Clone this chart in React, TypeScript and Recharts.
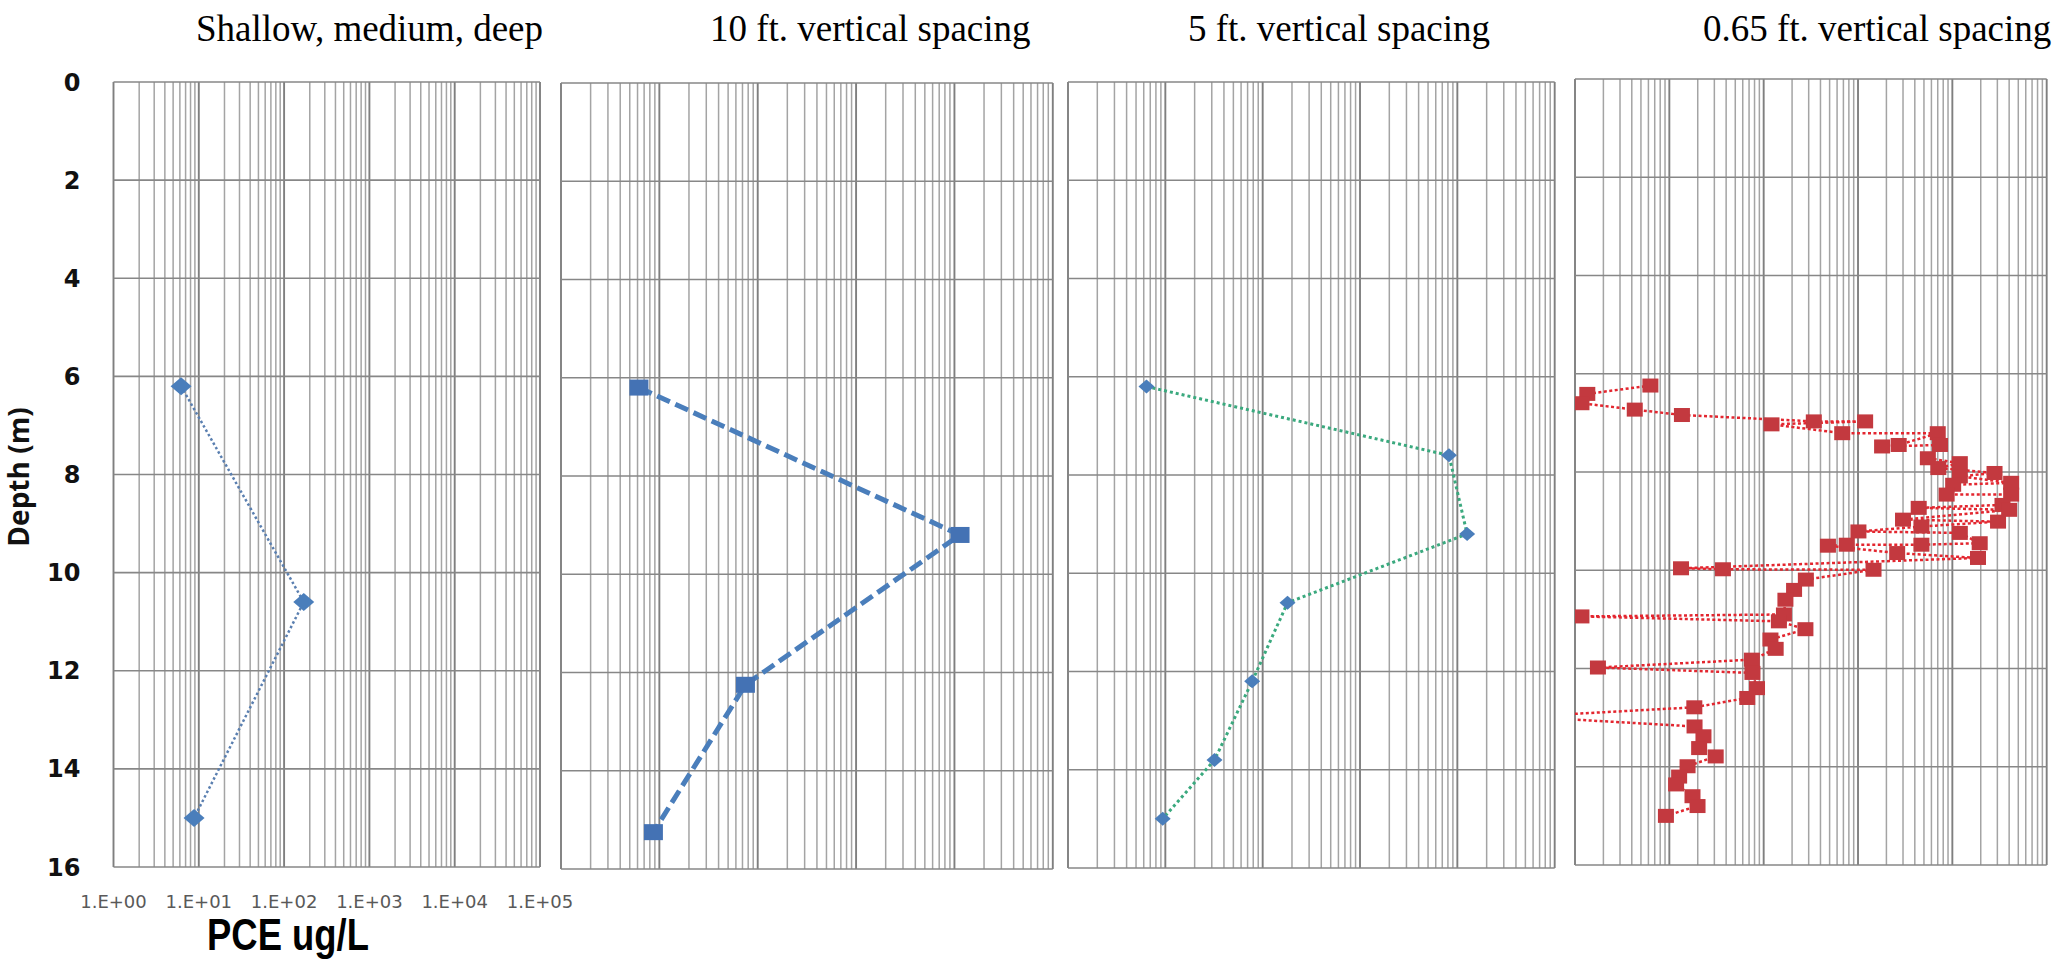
import React from "react";
import { ScatterChart, Scatter, XAxis, YAxis, ReferenceLine } from "recharts";

// depth (m) and PCE (ug/L)
const p1Depth = [6.2, 10.6, 15.0];
const p1Pce = [6.2, 170, 8.8];

const p2Depth = [6.2, 9.2, 12.25, 15.25];
const p2Pce = [6.2, 11400, 75, 8.7];

const p3Depth = [6.2, 7.6, 9.2, 10.6, 12.2, 13.8, 15.0];
const p3Pce = [6.4, 8200, 12600, 180, 78, 32, 9.4];

const p4Depth = [
  6.24, 6.41, 6.6, 6.73, 6.84, 6.97, 6.97, 7.03, 7.21, 7.21, 7.45, 7.48, 7.45,
  7.72, 7.82, 7.92, 8.02, 8.09, 8.22, 8.26, 8.46, 8.46, 8.67, 8.73, 8.77, 8.97,
  9.01, 9.11, 9.21, 9.24, 9.45, 9.48, 9.48, 9.5, 9.65, 9.75, 9.96, 9.98, 9.99,
  10.19, 10.4, 10.6, 10.9, 10.94, 11.04, 11.2, 11.41, 11.6, 11.82, 11.98, 12.09,
  12.4, 12.6, 12.79, 12.98, 13.18, 13.38, 13.62, 13.79, 13.99, 14.2, 14.36,
  14.6, 14.8, 15.0,
];
const p4Pce = [
  6.3, 1.35, 1.17, 4.3, 13.6, 340, 1190, 121, 680, 7000, 2700, 1800, 7400,
  5500, 12000, 7100, 28000, 12000, 42000, 10200, 8700, 42000, 34000, 4400,
  40000, 3000, 30500, 4700, 1010, 12000, 19500, 4700, 760, 480, 2600, 18700,
  13.3, 37, 1460, 280, 210, 170, 164, 1.17, 145, 277, 118, 134, 75, 1.75, 76,
  85, 67, 18.4, 0.28, 18.5, 23, 20.7, 31, 15.6, 12.7, 11.8, 17.6, 19.9, 9.2,
];

const titles = [
  "Shallow, medium, deep",
  "10 ft. vertical spacing",
  "5 ft. vertical spacing",
  "0.65 ft. vertical spacing",
];

const depthTicks = [0, 2, 4, 6, 8, 10, 12, 14, 16];
const decadeTicks = [1, 10, 100, 1000, 10000, 100000];
const decadeLabels = ["1.E+00", "1.E+01", "1.E+02", "1.E+03", "1.E+04", "1.E+05"];
const minorTicks = decadeTicks
  .slice(0, -1)
  .flatMap((d) => [2, 3, 4, 5, 6, 7, 8, 9].map((m) => m * d));

const toRows = (depth: number[], pce: number[]) =>
  depth.map((d, i) => ({ d, v: pce[i] }));

const diamond = (hw: number, hh: number, fill: string) => (p: any) =>
  p.cx == null ? null : (
    <path
      d={`M${p.cx - hw},${p.cy}L${p.cx},${p.cy - hh}L${p.cx + hw},${p.cy}L${p.cx},${p.cy + hh}Z`}
      fill={fill}
    />
  );

const square = (w: number, h: number, fill: string) => (p: any) =>
  p.cx == null ? null : (
    <rect x={p.cx - w / 2} y={p.cy - h / 2} width={w} height={h} fill={fill} />
  );

const PAD = 20;

function Panel({
  box,
  rows,
  shape,
  line,
  axes,
}: {
  box: number[];
  rows: { d: number; v: number }[];
  shape: any;
  line: any;
  axes?: boolean;
}) {
  const [x0, y0, x1, y1] = box;
  const left = axes ? 0 : x0 - PAD;
  const padR = axes ? 45 : PAD;
  const width = axes ? x1 + padR : x1 - x0 + 2 * PAD;
  const xh = axes ? 60 : 0;
  const height = y1 - y0 + 2 * PAD + xh;
  return (
    <div style={{ position: "absolute", left, top: y0 - PAD }}>
      <ScatterChart
        width={width}
        height={height}
        margin={{ top: PAD, right: padR, bottom: PAD, left: axes ? 0 : PAD }}
      >
        <XAxis
          type="number"
          dataKey="v"
          scale="log"
          domain={[1, 100000]}
          allowDataOverflow
          ticks={decadeTicks}
          interval={0}
          height={xh}
          hide={!axes}
          axisLine={false}
          tickLine={false}
          tickSize={0}
          tickMargin={28}
          tick={{ fontSize: 18, fill: "#595959", fontFamily: "DejaVu Sans" }}
          tickFormatter={(v: number) => {
            const i = decadeTicks.indexOf(v);
            return i >= 0 ? decadeLabels[i] : "";
          }}
        />
        <YAxis
          type="number"
          dataKey="d"
          reversed
          domain={[0, 16]}
          allowDataOverflow
          ticks={depthTicks}
          interval={0}
          width={axes ? x0 : 0}
          hide={!axes}
          axisLine={false}
          tickLine={false}
          tickSize={0}
          tickMargin={33}
          tick={{
            fontSize: 24,
            fontWeight: 700,
            fill: "#111",
            fontFamily: "DejaVu Sans",
          }}
        />
        {minorTicks.map((v) => (
          <ReferenceLine key={"m" + v} x={v} stroke="#a4a4a4" strokeWidth={1.5} />
        ))}
        {decadeTicks.map((v) => (
          <ReferenceLine key={"x" + v} x={v} stroke="#7f7f7f" strokeWidth={1.9} />
        ))}
        {depthTicks.map((v) => (
          <ReferenceLine key={"y" + v} y={v} stroke="#878787" strokeWidth={1.6} />
        ))}
        <Scatter
          data={rows}
          shape={shape}
          line={line}
          lineType="joint"
          isAnimationActive={false}
        />
      </ScatterChart>
    </div>
  );
}

const titleX = [196, 710, 1188, 1703];

export default function App() {
  return (
    <div
      style={{
        position: "relative",
        width: 2065,
        height: 966,
        background: "#fff",
        overflow: "hidden",
      }}
    >
      <style>{`body{margin:0}`}</style>
      <Panel
        axes
        box={[113.5, 82, 540, 867]}
        rows={toRows(p1Depth, p1Pce)}
        shape={diamond(10.5, 9, "#4a7ebb")}
        line={{ stroke: "#5a7fb0", strokeWidth: 2.5, strokeDasharray: "2.5 2.5" }}
      />
      <Panel
        box={[560.7, 83, 1052.5, 869]}
        rows={toRows(p2Depth, p2Pce)}
        shape={square(19, 16, "#4472b4")}
        line={{ stroke: "#4a7ebb", strokeWidth: 5, strokeDasharray: "14 6" }}
      />
      <Panel
        box={[1068.3, 82, 1555, 868]}
        rows={toRows(p3Depth, p3Pce)}
        shape={diamond(8, 7, "#4a7ebb")}
        line={{ stroke: "#3aa97e", strokeWidth: 3, strokeDasharray: "3 3" }}
      />
      <Panel
        box={[1575.3, 79, 2047, 865]}
        rows={toRows(p4Depth, p4Pce)}
        shape={square(16, 14, "#c3393f")}
        line={{ stroke: "#e3262f", strokeWidth: 2.5, strokeDasharray: "3 2.5" }}
      />
      <svg
        width={2065}
        height={966}
        style={{ position: "absolute", left: 0, top: 0, pointerEvents: "none" }}
      >
        {titles.map((t, i) => (
          <text
            key={t}
            x={titleX[i]}
            y={41}
            fontFamily="Liberation Serif, Times New Roman, serif"
            fontSize={37}
            fill="#000"
          >
            {t}
          </text>
        ))}
        <text
          transform="translate(29,477) rotate(-90)"
          textAnchor="middle"
          fontFamily="Open Sans"
          fontWeight={700}
          fontSize={28}
          fill="#111"
        >
          Depth (m)
        </text>
        <text
          x={288}
          y={950}
          textAnchor="middle"
          fontFamily="Liberation Sans, Arial, sans-serif"
          fontWeight={700}
          fontSize={45}
          textLength={162}
          lengthAdjust="spacingAndGlyphs"
          fill="#000"
        >
          PCE ug/L
        </text>
      </svg>
    </div>
  );
}
